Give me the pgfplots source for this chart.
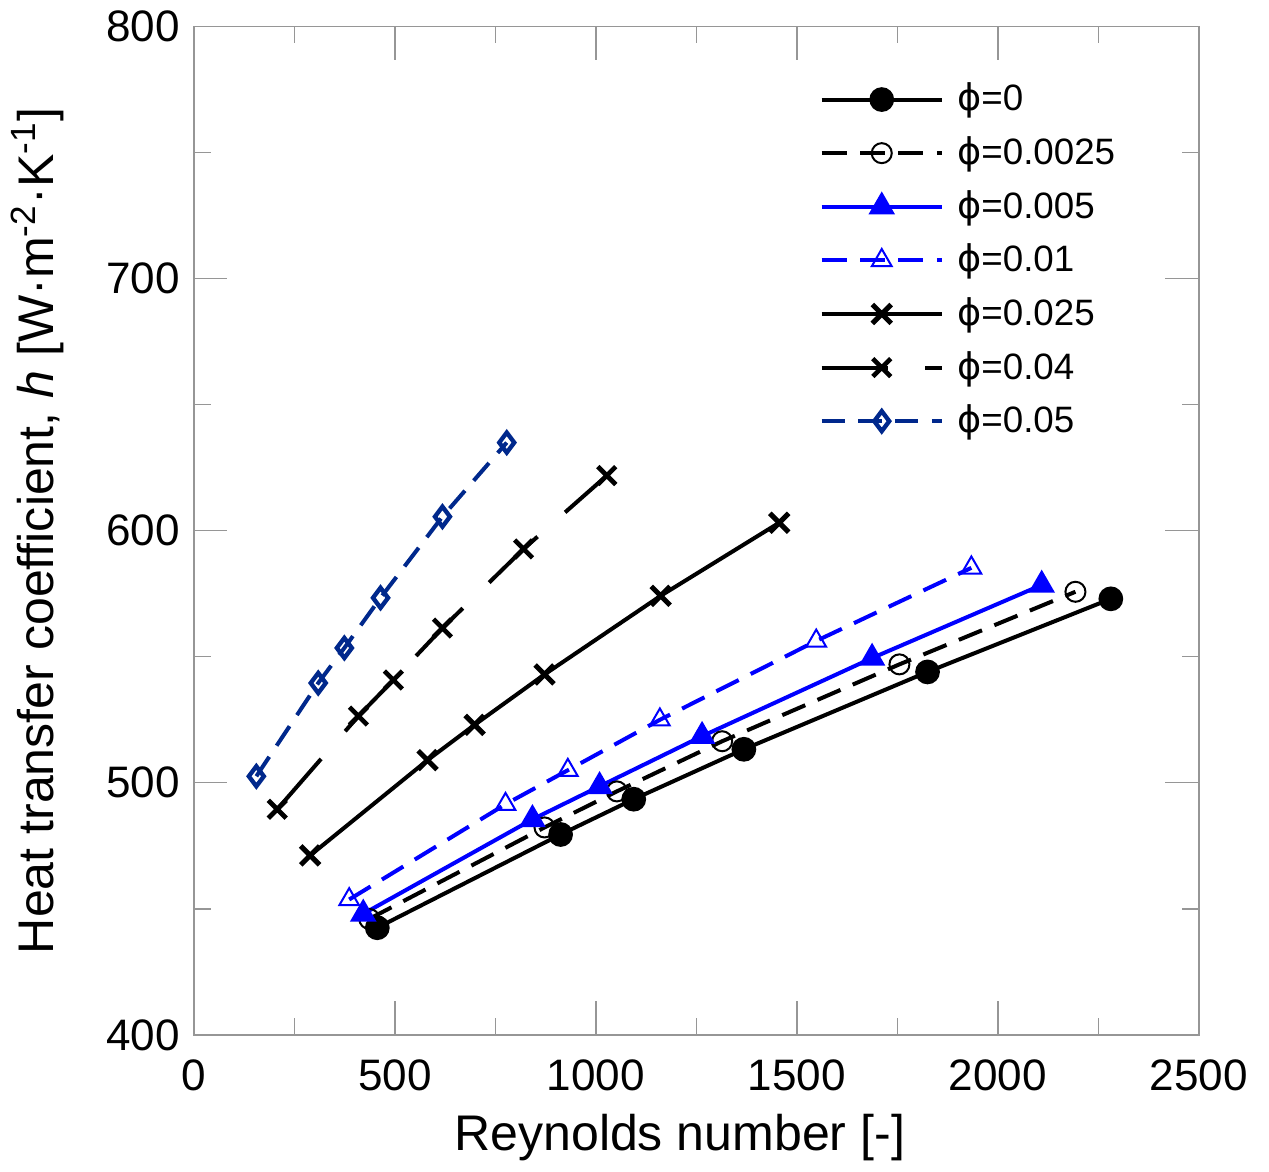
\documentclass[border={0pt 0pt 3pt 0pt}]{standalone}
\usepackage{fontspec}
\setmainfont{Liberation Sans}
\newfontfamily\dejavu{DejaVu Sans}
\usepackage{pgfplots}
\pgfplotsset{compat=1.18}

\definecolor{myblue}{RGB}{0,0,255}
\definecolor{navy}{RGB}{0,40,140}
\definecolor{axgray}{RGB}{150,150,150}
\newcommand{\ph}{{\dejavu ϕ}}

\begin{document}
\begin{tikzpicture}
\begin{axis}[
    scale only axis,
    width=301pt, height=302pt,
    xmin=0, xmax=2500, ymin=400, ymax=800,
    xtick={0,500,...,2500}, ytick={400,500,...,800},
    minor x tick num=1, minor y tick num=1,
    tick align=inside,
    major tick length=10pt, minor tick length=5pt,
    axis line style={axgray},
    every tick/.style={axgray, line width=0.4pt},
    /pgf/number format/assume math mode=true,
    /pgf/number format/1000 sep={},
    ticklabel style={font=\fontsize{13.2}{16}\selectfont},
    xticklabel shift=4pt,
    yticklabel shift=0.7pt,
    xlabel={Reynolds number [-]},
    ylabel={Heat transfer coefficient, \textit{h} [W·m\textsuperscript{-2}·K\textsuperscript{-1}]},
    label style={font=\fontsize{15}{18}\selectfont},
    xlabel style={xshift=-5pt},
    ylabel style={yshift=6pt},
    legend style={draw=none, fill=none, at={(0.612,0.958)}, anchor=north west,
        font=\fontsize{11}{14}\selectfont, row sep=2.2pt,
        nodes={inner xsep=4pt}},
    legend cell align=left,
    legend image code/.code={
        \draw[mark repeat=2, mark phase=2, #1] plot coordinates {(0pt,0pt) (18pt,0pt) (36pt,0pt)};
    },
    every axis plot/.append style={line width=1.2pt},
]

% phi = 0
\addplot[black, mark=*, mark size=3.1pt, mark options={solid}] coordinates {
    (456,442.5) (912,479.5) (1094,493.5) (1368,513.3) (1825,544) (2281,573)
};
\addlegendentry{\ph=0}

% phi = 0.0025
\addplot[black, dash pattern=on 7.5pt off 4pt, mark=o, mark size=3pt,
    mark options={solid, fill=white, line width=0.6pt}] coordinates {
    (436,446) (872,482.3) (1052,496.6) (1314,516.5) (1755,547) (2193,575.8)
};
\addlegendentry{\ph=0.0025}

% phi = 0.005
\addplot[myblue, mark=triangle*, mark size=3.4pt, mark options={solid}] coordinates {
    (421,448) (842,485.5) (1009,498.6) (1264,518.5) (1687,549.5) (2109,578.5)
};
\addlegendentry{\ph=0.005}

% phi = 0.01
\addplot[myblue, dash pattern=on 7.5pt off 4pt, mark=triangle, mark size=3.4pt,
    mark options={solid, line width=0.6pt}] coordinates {
    (386,453.7) (775,491.5) (930,505) (1159,525) (1548,556.3) (1934,585.3)
};
\addlegendentry{\ph=0.01}

% phi = 0.025
\addplot[black, mark=x, mark size=4pt, mark options={solid, line width=1.5pt}] coordinates {
    (289,471.2) (581,509) (698,523) (872,543) (1161,574.2) (1456,603.2)
};
\addlegendentry{\ph=0.025}

% phi = 0.04
\addplot[black, dash pattern=on 20pt off 11pt, mark=x, mark size=3.8pt,
    mark options={solid, line width=1.4pt}] coordinates {
    (207,489.5) (409,526.5) (496,540.8) (618,561.4) (820,592.8) (1027,621.9)
};
\addlegendentry{\ph=0.04}

% phi = 0.05
\addplot[navy, dash pattern=on 7pt off 4pt, mark=diamond, mark size=3pt,
    mark options={solid, line width=1.3pt}] coordinates {
    (155,502.6) (309,539.6) (374,553.5) (464,573.4) (618,605.6) (778,635)
};
\addlegendentry{\ph=0.05}

\end{axis}
\end{tikzpicture}
\end{document}
